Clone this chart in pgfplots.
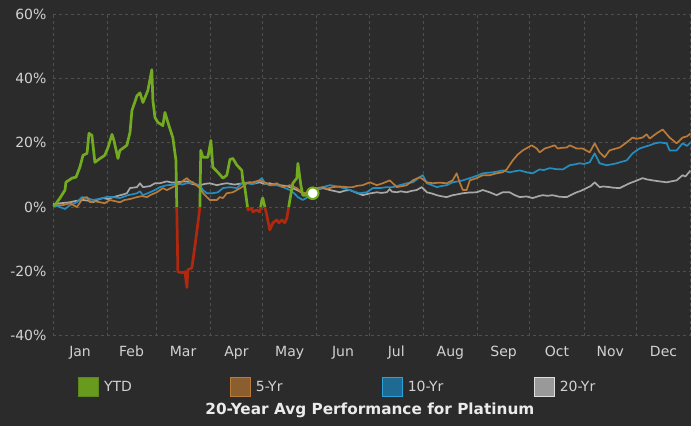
\documentclass[border=0pt]{standalone}
\usepackage{pgfplots}
\pgfplotsset{compat=1.18}
\usepackage{fontspec}
\setmainfont{DejaVu Sans}
\definecolor{bg}{HTML}{2B2B2B}
\definecolor{gridc}{HTML}{4F4F4F}
\definecolor{txt}{HTML}{D2D2D2}
\definecolor{ytd}{HTML}{72AB20}
\definecolor{ytdneg}{HTML}{B0290E}
\definecolor{five}{HTML}{BA7A38}
\definecolor{ten}{HTML}{258DBF}
\definecolor{twenty}{HTML}{A8A8A8}
\definecolor{fivefill}{HTML}{8B5E30}
\definecolor{tenfill}{HTML}{1F6A92}
\definecolor{tenedge}{HTML}{2AA3DC}
\newcommand{\lent}[1]{\makebox[124pt][l]{#1}}
\begin{document}
\begin{tikzpicture}
\fill[bg] (0,0) rectangle (691pt,426pt);
\begin{axis}[
  at={(53pt,90pt)}, anchor=south west,
  scale only axis, width=638pt, height=322pt,
  xmin=0, xmax=365, ymin=-40, ymax=60,
  axis line style={draw=none},
  major tick length=0pt,
  xtick={0,31,59,90,120,151,181,212,243,273,304,334,365},
  x tick label as interval,
  xticklabels={Jan,Feb,Mar,Apr,May,Jun,Jul,Aug,Sep,Oct,Nov,Dec},
  ytick={-40,-20,0,20,40,60},
  yticklabels={-40\%,-20\%,0\%,20\%,40\%,60\%},
  tick label style={font=\fontsize{14}{16}\selectfont, text=txt},
  xticklabel style={yshift=-7pt},
  yticklabel style={xshift=-3pt},
  grid=major,
  major grid style={gridc, dash pattern=on 3pt off 3pt, line width=0.8pt},
  legend columns=4,
  legend style={draw=none, fill=none, at={(0.039,-0.158)}, anchor=west,
    font=\fontsize{14}{16}\selectfont, text=txt, inner sep=0pt,
    /tikz/every odd column/.append style={column sep=3pt}},
  xlabel={\bfseries 20-Year Avg Performance for Platinum},
  xlabel style={at={(axis description cs:0.497,-0.233)}, anchor=center,
    font=\fontsize{15.3}{18}\selectfont, text=white!92!black},
  ytdline/.style={line width=2.7pt, line join=round, forget plot},
]
\addlegendimage{legend image code/.code={\filldraw[fill=ytd!90!black, draw=ytd!80!black, line width=1pt] (0pt,-9.5pt) rectangle (20pt,9.5pt);}}
\addlegendentry{\lent{YTD}}
\addlegendimage{legend image code/.code={\filldraw[fill=fivefill, draw=five, line width=1pt] (0pt,-9.5pt) rectangle (20pt,9.5pt);}}
\addlegendentry{\lent{5-Yr}}
\addlegendimage{legend image code/.code={\filldraw[fill=tenfill, draw=tenedge, line width=1pt] (0pt,-9.5pt) rectangle (20pt,9.5pt);}}
\addlegendentry{\lent{10-Yr}}
\addlegendimage{legend image code/.code={\filldraw[fill=white!60!black, draw=white!87!black, line width=1pt] (0pt,-9.5pt) rectangle (20pt,9.5pt);}}
\addlegendentry{\lent{20-Yr}}
% 20-Yr
\addplot[twenty, line width=1.7pt, line join=round, forget plot]
coordinates {
(0,0.9)(4.5,1.2)(9.7,1.5)(13,1.9)(17.2,2.2)(20,2.0)(22.9,1.5)(26,2.4)(28.6,2.8)(31.5,2.5)(34,3.0)(36.6,3.4)(40,3.9)(42.3,4.3)(44.1,5.9)(48.1,6.2)(49.8,7.4)(51.5,6.2)(55.5,6.5)(58.4,7.4)(61.2,7.4)(65.2,8.0)(68,7.6)(70.9,7.7)(74,7.9)(76.7,8.0)(78.4,7.4)(81,7.0)(84.1,6.8)(87,7.2)(89.8,7.4)(93.8,6.8)(97,7.2)(99.5,7.4)(104,7.0)(108.7,7.4)(112.7,7.7)(115,7.3)(118.4,7.7)(121,7.2)(124.1,7.4)(127,7.0)(129.9,6.8)(133,6.6)(135.6,6.2)(139.6,5.3)(143.0,4.3)(146,4.5)(148.7,4.6)(151,5.4)(154.5,5.9)(158.5,5.3)(161,5.0)(164.2,4.6)(167,5.1)(169.9,5.3)(173,4.6)(177.3,3.7)(181,4.2)(185.4,4.6)(188,4.4)(191.1,4.6)(192.8,5.6)(194,4.8)(196.8,4.6)(199,4.9)(202.5,4.6)(205,5.0)(208.2,5.3)(211.1,6.2)(214.0,4.6)(217,4.2)(219.7,3.7)(222,3.4)(225.4,3.1)(228.8,3.7)(231,3.9)(234.6,4.3)(238,4.5)(242.6,4.6)(246.0,5.3)(250.0,4.6)(254.0,3.7)(257.4,4.6)(261.4,4.6)(264,3.8)(267.2,3.1)(271,3.3)(274.6,2.8)(278,3.4)(280.3,3.7)(283,3.5)(286.0,3.7)(290,3.2)(294.1,3.1)(297,3.9)(299.8,4.6)(302,5.0)(305.5,5.9)(308,6.6)(310.1,7.7)(312.9,6.2)(315,6.4)(318.6,6.2)(321,6.0)(324.4,5.9)(327,6.6)(330.1,7.4)(334,8.2)(337.5,9.0)(340,8.6)(343.2,8.3)(347,8.0)(351.3,7.7)(354,8.0)(357.0,8.3)(360.4,9.9)(362,9.5)(365,11.4)
};
% 10-Yr
\addplot[ten, line width=1.7pt, line join=round, forget plot]
coordinates {
(0,0.6)(4.0,0)(6.9,-0.6)(9.7,0.6)(13.7,1.5)(16.6,3.1)(19.5,2.8)(22.9,2.2)(26,2.5)(28.6,2.8)(31,3.2)(34.3,3.1)(38.3,2.8)(42.9,3.7)(45,3.9)(48.1,4.3)(49.8,4.9)(51.5,3.7)(55.5,4.6)(58,5.2)(61.2,6.2)(65.2,6.8)(68,6.9)(70.9,7.4)(74,7.0)(76.7,7.4)(80.1,7.4)(84.1,6.8)(85.8,5.3)(88.1,4.3)(91.5,4.3)(94.4,4.6)(97.3,5.9)(101.3,6.2)(105.3,5.9)(108.1,7.4)(111.0,7.4)(114,7.1)(116.7,7.7)(119.6,9.0)(121.3,7.4)(124.1,6.8)(128.1,6.8)(131.6,6.2)(135.6,5.3)(138,4.3)(140.2,3.1)(143.0,2.2)(145.9,3.1)(148,4.0)(151.0,5.3)(154.5,6.2)(158.5,6.8)(161,6.6)(164.2,6.2)(167,5.8)(169.9,5.3)(173,4.7)(175.6,4.3)(179.6,4.6)(183.1,5.9)(187.1,5.9)(191.1,6.2)(194.5,6.2)(198.5,6.8)(202.5,7.4)(206.0,7.7)(210.0,9.3)(211.7,9.9)(214.0,7.4)(217,6.8)(219.7,6.2)(222,6.5)(225.4,6.8)(228.8,7.7)(231,7.9)(234.6,8.3)(240.3,9.3)(243,9.8)(246.0,10.5)(251.7,10.8)(254,11.0)(257.4,11.4)(261.4,10.8)(264,11.1)(267.2,11.4)(271.2,10.8)(274.6,10.5)(278.6,11.7)(281,11.5)(284.3,12.1)(288,11.8)(291.8,11.7)(295.8,13.0)(298,13.2)(301.5,13.6)(304,13.4)(307.2,13.9)(310.1,16.7)(312.9,13.6)(316.9,13.0)(320,13.3)(322.7,13.6)(325,14.0)(328.4,14.5)(331.8,16.7)(335.8,18.2)(338,18.6)(341.6,19.2)(344,19.7)(347.3,20.1)(351.3,19.8)(353.0,17.6)(357.0,17.6)(360.4,19.8)(363,19.0)(365,20.1)
};
% 5-Yr
\addplot[five, line width=1.7pt, line join=round, forget plot]
coordinates {
(0,0.6)(5.7,0.6)(9.7,1.2)(13.7,0)(17.2,2.8)(19.5,3.1)(21.2,1.5)(24,1.8)(26.9,1.5)(29.7,1.2)(32.6,2.2)(35,1.9)(38.3,1.5)(41,2.2)(44.1,2.5)(48.1,3.1)(50.9,3.4)(53.8,3.1)(56,3.8)(59.5,4.6)(62.9,5.9)(65.2,5.3)(68.6,6.2)(72.7,7.4)(75,8.4)(76.7,9.0)(78,8.2)(80.1,7.7)(84.1,5.9)(86,4.3)(88.1,3.1)(89.8,2.2)(93.8,2.2)(95.5,3.1)(97.3,2.8)(99.5,4.3)(103.0,4.6)(105.3,5.3)(108.1,6.2)(111.0,7.4)(114.4,7.7)(118.4,8.3)(122.4,7.4)(124.1,6.8)(128.1,7.4)(131.6,6.2)(135.6,6.8)(139.6,5.9)(143.0,4.3)(145.9,4.6)(148,5.3)(151.0,5.9)(154.5,6.2)(157,5.7)(160.2,6.2)(164,6.4)(168.2,6.2)(171.6,6.2)(174,6.6)(177.3,6.8)(181.4,7.7)(185.4,6.8)(188.8,7.4)(192.8,8.3)(196.8,6.2)(199,6.4)(202.5,6.8)(206.0,8.3)(210.0,9.3)(214.0,7.7)(217.4,7.4)(221,7.6)(225.4,7.4)(228.8,8.3)(231.1,10.5)(232.8,7.7)(234.6,5.3)(236.8,5.3)(238.6,8.3)(242.6,9.0)(246.0,9.9)(250.0,9.9)(254.0,10.5)(257.4,10.8)(259.7,11.7)(263.2,14.5)(266,16.3)(268.9,17.6)(274.0,19.2)(276.9,18.2)(278.6,17.0)(281.5,18.2)(284,18.6)(287.2,19.2)(288.9,18.2)(291,18.4)(294.1,18.5)(295.8,19.2)(299.8,18.2)(303.2,18.2)(307.2,17.0)(310.1,19.8)(312.9,17.0)(315.8,15.5)(318.6,17.6)(321,18.0)(324.4,18.5)(328.4,20.1)(331.8,21.6)(334,21.2)(337.5,21.6)(339.8,22.6)(341.6,21.3)(345.5,22.9)(349.0,24.1)(353.0,21.6)(357.0,19.8)(360.4,21.6)(363,22.0)(365,22.9)
};
% YTD: green where >= 0, red where < 0
\addplot[ytd, ytdline] coordinates {
(0,0.3)(1.1,0.6)(4.0,2.8)(6.9,5.3)(7.4,7.7)(10.9,9.0)(13.2,9.3)(15.4,12.4)(17.2,16.1)(19.5,16.7)(20.6,22.9)(22.3,22.3)(24.0,13.9)(26.9,15.1)(29.7,16.1)(31.5,18.5)(33.8,22.6)(34.9,20.7)(37.2,15.1)(38.3,17.6)(42.3,19.2)(44.1,23.2)(45.2,30.0)(48.1,34.6)(49.8,35.5)(51.5,32.5)(54.3,36.2)(56.6,42.7)(57.2,33.1)(58.4,27.8)(60.1,26.3)(62.9,25.3)(64.1,29.4)(65.8,26.3)(68.6,21.6)(70.4,14.5)(70.86,0)
};
\addplot[ytdneg, ytdline] coordinates {
(70.86,0)(71.5,-20.1)(73.8,-20.4)(75.5,-20.1)(76.7,-25.0)(77.2,-19.5)(79.5,-18.9)(81.2,-12.4)(83.0,-4.9)(84.1,0)
};
\addplot[ytd, ytdline] coordinates {
(84.1,0)(84.6,17.6)(85.8,15.5)(88.7,15.5)(90.4,20.7)(91.5,12.4)(94.4,10.8)(97.3,9.0)(99.5,9.9)(101.3,14.8)(103.0,15.1)(105.3,13.0)(106.4,12.4)(108.1,11.4)(108.7,8.3)(109.8,6.2)(111.37,0)
};
\addplot[ytdneg, ytdline] coordinates {
(111.37,0)(111.6,-0.9)(113.8,-0.3)(114.4,-1.5)(116.7,-0.9)(118.4,-1.5)(118.89,0)
};
\addplot[ytd, ytdline] coordinates {
(118.89,0)(119.6,2.2)(120.1,2.8)(121.31,0)
};
\addplot[ytdneg, ytdline] coordinates {
(121.31,0)(122.4,-2.5)(124.1,-7.1)(125.9,-4.9)(128.1,-4.0)(129.3,-4.9)(131.0,-4.0)(132.7,-4.9)(133.9,-3.4)(134.93,0)
};
\addplot[ytd, ytdline] coordinates {
(134.93,0)(135.6,2.2)(137.3,7.4)(139.6,9.0)(140.2,13.6)(141.9,6.8)(143.0,3.7)(145.3,3.7)(148.7,4.3)
};
% current point marker
\addplot[ytd, only marks, mark=*, mark size=5.8pt, forget plot,
  mark options={fill=white, draw=ytd, line width=2pt}]
coordinates {(148.7,4.3)};
\end{axis}
\end{tikzpicture}
\end{document}
